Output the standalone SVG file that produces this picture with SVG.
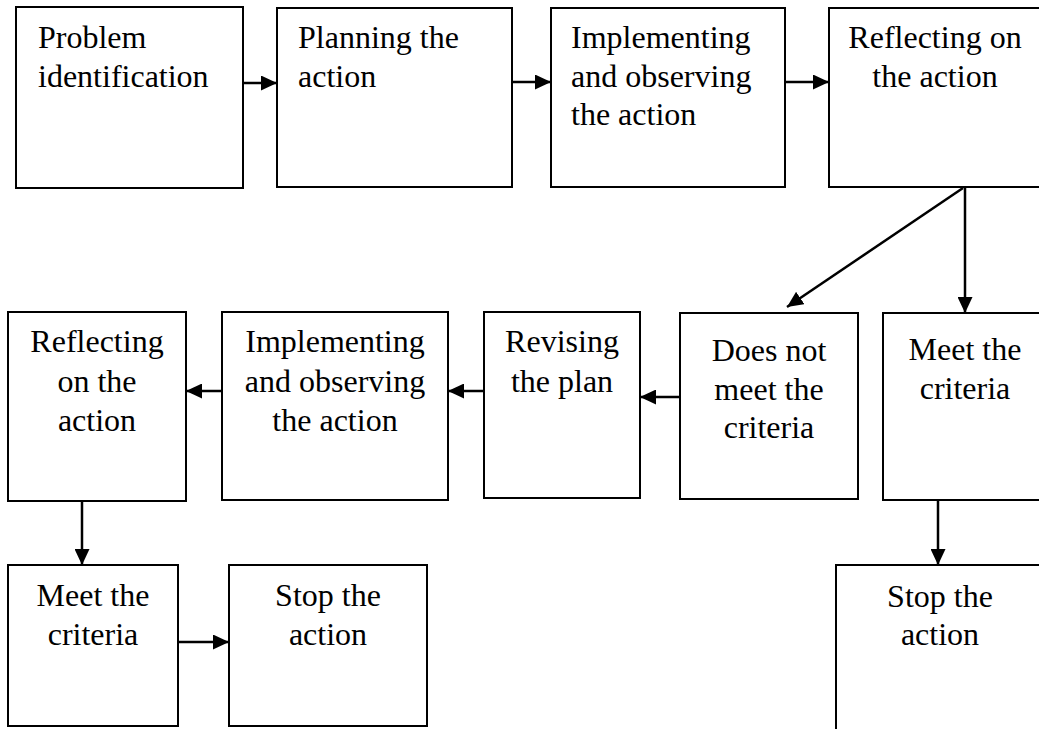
<svg xmlns="http://www.w3.org/2000/svg" width="1039" height="729" viewBox="0 0 1039 729">
<defs>
<style>
.box{fill:#fff;stroke:#000;stroke-width:2}
.t{font-family:'Liberation Serif','Times New Roman',Times,'DejaVu Serif',serif;font-size:32px;fill:#000}
.m{text-anchor:middle}
.c{stroke:#000;stroke-width:2.5;fill:none;marker-end:url(#ah)}
</style>
<marker id="ah" markerUnits="userSpaceOnUse" markerWidth="17" markerHeight="15" refX="16" refY="7.5" orient="auto">
<path d="M0,0 L16,7.5 L0,15 z" fill="#000"/>
</marker>
</defs>
<rect width="1039" height="729" fill="#fff"/>
<g id="n1"><rect class="box" x="16" y="7" width="227" height="181"/>
<text class="t" font-family="Liberation Serif, serif" x="38" y="48">Problem</text><text class="t" font-family="Liberation Serif, serif" x="38" y="87">identification</text></g>
<g id="n2"><rect class="box" x="277" y="8" width="235" height="179"/>
<text class="t" x="298" y="48">Planning the</text><text class="t" x="298" y="87">action</text></g>
<g id="n3"><rect class="box" x="551" y="8" width="234" height="179"/>
<text class="t" x="571" y="48">Implementing</text><text class="t" x="571" y="87">and observing</text><text class="t" x="571" y="125">the action</text></g>
<g id="n4"><rect class="box" x="829" y="8" width="230" height="179"/>
<text class="t m" x="935" y="48">Reflecting on</text><text class="t m" x="935" y="87">the action</text></g>
<g id="n5"><rect class="box" x="8" y="312" width="178" height="189"/>
<text class="t m" x="97" y="352">Reflecting</text><text class="t m" x="97" y="392">on the</text><text class="t m" x="97" y="431">action</text></g>
<g id="n6"><rect class="box" x="222" y="312" width="226" height="188"/>
<text class="t m" x="335" y="352">Implementing</text><text class="t m" x="335" y="392">and observing</text><text class="t m" x="335" y="431">the action</text></g>
<g id="n7"><rect class="box" x="484" y="312" width="156" height="186"/>
<text class="t m" x="562" y="352">Revising</text><text class="t m" x="562" y="392">the plan</text></g>
<g id="n8"><rect class="box" x="680" y="313" width="178" height="186"/>
<text class="t m" x="769" y="361">Does not</text><text class="t m" x="769" y="400">meet the</text><text class="t m" x="769" y="438">criteria</text></g>
<g id="n9"><rect class="box" x="883" y="313" width="176" height="187"/>
<text class="t m" x="965" y="360">Meet the</text><text class="t m" x="965" y="399">criteria</text></g>
<g id="n10"><rect class="box" x="8" y="565" width="170" height="161"/>
<text class="t m" x="93" y="606">Meet the</text><text class="t m" x="93" y="645">criteria</text></g>
<g id="n11"><rect class="box" x="229" y="565" width="198" height="161"/>
<text class="t m" x="328" y="606">Stop the</text><text class="t m" x="328" y="645">action</text></g>
<g id="n12"><rect class="box" x="836" y="565" width="223" height="180"/>
<text class="t m" x="940" y="607">Stop the</text><text class="t m" x="940" y="645">action</text></g>
<g id="connectors">
<line class="c" x1="243" y1="83" x2="277" y2="83"/>
<line class="c" x1="512" y1="82" x2="551" y2="82"/>
<line class="c" x1="785" y1="82" x2="829" y2="82"/>
<line class="c" x1="963" y1="188" x2="787" y2="307"/>
<line class="c" x1="965" y1="188" x2="965" y2="313"/>
<line class="c" x1="680" y1="397" x2="640" y2="397"/>
<line class="c" x1="484" y1="391" x2="448" y2="391"/>
<line class="c" x1="222" y1="391" x2="186" y2="391"/>
<line class="c" x1="82" y1="501" x2="82" y2="565"/>
<line class="c" x1="178" y1="642" x2="229" y2="642"/>
<line class="c" x1="938" y1="500" x2="938" y2="565"/>
</g>
</svg>
